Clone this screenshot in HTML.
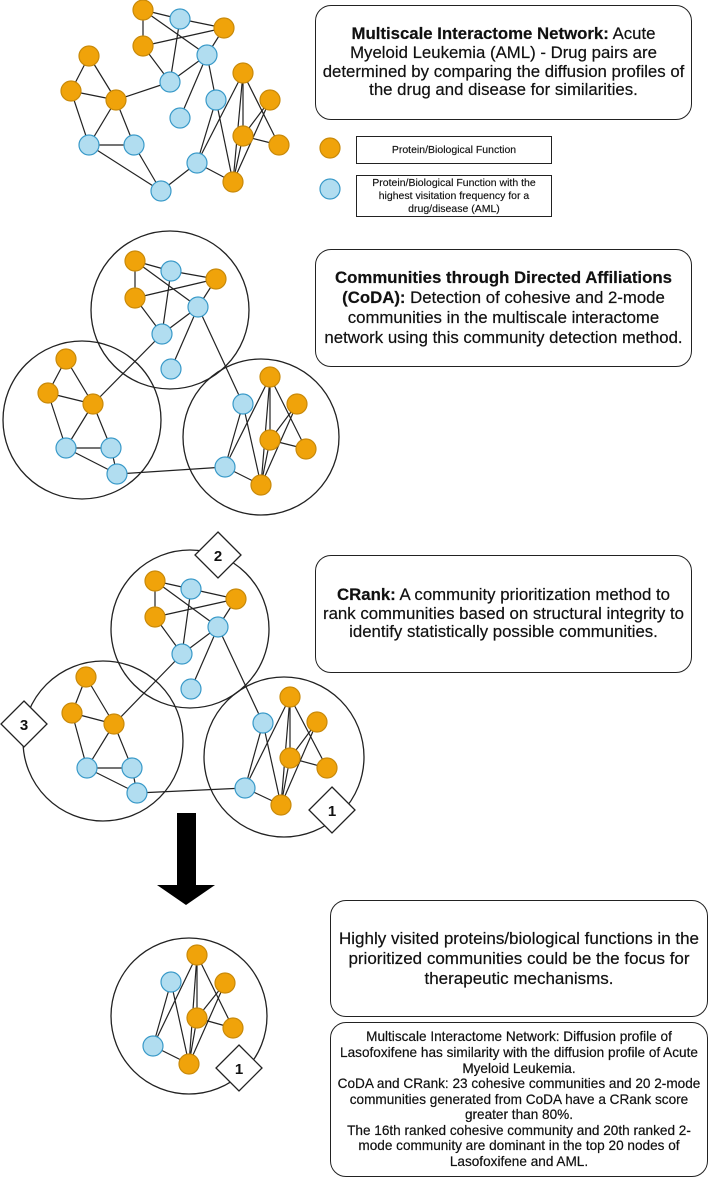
<!DOCTYPE html>
<html><head><meta charset="utf-8"><style>
html,body{margin:0;padding:0;background:#fff;}
body{width:709px;height:1180px;position:relative;overflow:hidden;font-family:"Liberation Sans",Arial,sans-serif;}
svg{position:absolute;left:0;top:0;}
.box{position:absolute;box-sizing:border-box;border:1.4px solid #222;border-radius:16px;display:flex;align-items:center;justify-content:center;text-align:center;color:#111;-webkit-text-stroke:0.2px #111;}
.lg{position:absolute;box-sizing:border-box;border:1.4px solid #222;display:flex;align-items:center;justify-content:center;text-align:center;font-size:10.5px;line-height:13px;color:#111;-webkit-text-stroke:0.15px #111;}
</style></head><body>
<svg width="709" height="1180" viewBox="0 0 709 1180">
<g stroke="#222" stroke-width="1.3" fill="none">
<circle cx="170" cy="310" r="79"/><circle cx="82" cy="420" r="79"/><circle cx="261" cy="437" r="78"/>
<circle cx="190" cy="629" r="79"/><circle cx="103" cy="741" r="80"/><circle cx="284" cy="757" r="80"/>
<circle cx="189" cy="1016" r="78"/>
</g>
<g stroke="#222" stroke-width="1.2">
<line x1="143" y1="10" x2="180" y2="19"/><line x1="143" y1="10" x2="143" y2="46"/><line x1="143" y1="10" x2="207" y2="55"/>
<line x1="180" y1="19" x2="224" y2="28"/><line x1="143" y1="46" x2="224" y2="28"/><line x1="180" y1="19" x2="170" y2="82"/>
<line x1="207" y1="55" x2="224" y2="28"/><line x1="170" y1="82" x2="207" y2="55"/><line x1="207" y1="55" x2="180" y2="118"/>
<line x1="207" y1="55" x2="216" y2="100"/><line x1="143" y1="46" x2="170" y2="82"/><line x1="170" y1="82" x2="116" y2="100"/>
<line x1="89" y1="56" x2="116" y2="100"/><line x1="89" y1="56" x2="71" y2="91"/><line x1="71" y1="91" x2="116" y2="100"/>
<line x1="71" y1="91" x2="89" y2="145"/><line x1="116" y1="100" x2="89" y2="145"/><line x1="116" y1="100" x2="134" y2="145"/>
<line x1="89" y1="145" x2="134" y2="145"/><line x1="89" y1="145" x2="161" y2="191"/><line x1="134" y1="145" x2="161" y2="191"/>
<line x1="161" y1="191" x2="197" y2="163"/><line x1="197" y1="163" x2="233" y2="182"/><line x1="216" y1="100" x2="197" y2="163"/>
<line x1="216" y1="100" x2="233" y2="182"/><line x1="197" y1="163" x2="243" y2="73"/><line x1="243" y1="73" x2="243" y2="136"/>
<line x1="243" y1="73" x2="233" y2="182"/><line x1="243" y1="73" x2="279" y2="145"/><line x1="270" y1="100" x2="243" y2="136"/>
<line x1="270" y1="100" x2="233" y2="182"/><line x1="243" y1="136" x2="279" y2="145"/><line x1="243" y1="136" x2="233" y2="182"/>
<line x1="135" y1="261" x2="171" y2="271"/><line x1="135" y1="261" x2="135" y2="298"/><line x1="135" y1="261" x2="198" y2="307"/>
<line x1="171" y1="271" x2="216" y2="279"/><line x1="135" y1="298" x2="216" y2="279"/><line x1="171" y1="271" x2="162" y2="334"/>
<line x1="198" y1="307" x2="216" y2="279"/><line x1="162" y1="334" x2="198" y2="307"/><line x1="198" y1="307" x2="171" y2="369"/>
<line x1="198" y1="307" x2="243" y2="404"/><line x1="135" y1="298" x2="162" y2="334"/><line x1="162" y1="334" x2="93" y2="404"/>
<line x1="66" y1="359" x2="93" y2="404"/><line x1="66" y1="359" x2="48" y2="393"/><line x1="48" y1="393" x2="93" y2="404"/>
<line x1="48" y1="393" x2="66" y2="448"/><line x1="93" y1="404" x2="66" y2="448"/><line x1="93" y1="404" x2="111" y2="448"/>
<line x1="66" y1="448" x2="111" y2="448"/><line x1="66" y1="448" x2="117" y2="474"/><line x1="111" y1="448" x2="117" y2="474"/>
<line x1="117" y1="474" x2="225" y2="467"/><line x1="225" y1="467" x2="261" y2="485"/><line x1="243" y1="404" x2="225" y2="467"/>
<line x1="243" y1="404" x2="261" y2="485"/><line x1="225" y1="467" x2="270" y2="377"/><line x1="270" y1="377" x2="270" y2="440"/>
<line x1="270" y1="377" x2="261" y2="485"/><line x1="270" y1="377" x2="306" y2="449"/><line x1="297" y1="404" x2="270" y2="440"/>
<line x1="297" y1="404" x2="261" y2="485"/><line x1="270" y1="440" x2="306" y2="449"/><line x1="270" y1="440" x2="261" y2="485"/>
<line x1="155" y1="581" x2="191" y2="589"/><line x1="155" y1="581" x2="155" y2="617"/><line x1="155" y1="581" x2="218" y2="627"/>
<line x1="191" y1="589" x2="236" y2="599"/><line x1="155" y1="617" x2="236" y2="599"/><line x1="191" y1="589" x2="182" y2="654"/>
<line x1="218" y1="627" x2="236" y2="599"/><line x1="182" y1="654" x2="218" y2="627"/><line x1="218" y1="627" x2="191" y2="689"/>
<line x1="218" y1="627" x2="263" y2="723"/><line x1="155" y1="617" x2="182" y2="654"/><line x1="182" y1="654" x2="114" y2="724"/>
<line x1="86" y1="677" x2="114" y2="724"/><line x1="86" y1="677" x2="72" y2="713"/><line x1="72" y1="713" x2="114" y2="724"/>
<line x1="72" y1="713" x2="87" y2="768"/><line x1="114" y1="724" x2="87" y2="768"/><line x1="114" y1="724" x2="132" y2="768"/>
<line x1="87" y1="768" x2="132" y2="768"/><line x1="87" y1="768" x2="137" y2="793"/><line x1="132" y1="768" x2="137" y2="793"/>
<line x1="137" y1="793" x2="245" y2="788"/><line x1="245" y1="788" x2="281" y2="805"/><line x1="263" y1="723" x2="245" y2="788"/>
<line x1="263" y1="723" x2="281" y2="805"/><line x1="245" y1="788" x2="290" y2="697"/><line x1="290" y1="697" x2="290" y2="758"/>
<line x1="290" y1="697" x2="281" y2="805"/><line x1="290" y1="697" x2="327" y2="768"/><line x1="317" y1="722" x2="290" y2="758"/>
<line x1="317" y1="722" x2="281" y2="805"/><line x1="290" y1="758" x2="327" y2="768"/><line x1="290" y1="758" x2="281" y2="805"/>
<line x1="171" y1="982" x2="153" y2="1046"/><line x1="171" y1="982" x2="189" y2="1064"/><line x1="153" y1="1046" x2="197" y2="955"/>
<line x1="153" y1="1046" x2="189" y2="1064"/><line x1="197" y1="955" x2="197" y2="1018"/><line x1="197" y1="955" x2="189" y2="1064"/>
<line x1="197" y1="955" x2="233" y2="1028"/><line x1="225" y1="983" x2="197" y2="1018"/><line x1="225" y1="983" x2="189" y2="1064"/>
<line x1="197" y1="1018" x2="233" y2="1028"/><line x1="197" y1="1018" x2="189" y2="1064"/>
</g>
<g fill="#f0a30a" stroke="#c98a0a" stroke-width="1.2">
<circle cx="143" cy="10" r="10"/><circle cx="224" cy="28" r="10"/><circle cx="143" cy="46" r="10"/><circle cx="89" cy="56" r="10"/><circle cx="71" cy="91" r="10"/><circle cx="116" cy="100" r="10"/><circle cx="243" cy="73" r="10"/><circle cx="270" cy="100" r="10"/><circle cx="243" cy="136" r="10"/><circle cx="279" cy="145" r="10"/><circle cx="233" cy="182" r="10"/>
<circle cx="135" cy="261" r="10"/><circle cx="216" cy="279" r="10"/><circle cx="135" cy="298" r="10"/><circle cx="66" cy="359" r="10"/><circle cx="48" cy="393" r="10"/><circle cx="93" cy="404" r="10"/><circle cx="270" cy="377" r="10"/><circle cx="297" cy="404" r="10"/><circle cx="270" cy="440" r="10"/><circle cx="306" cy="449" r="10"/><circle cx="261" cy="485" r="10"/>
<circle cx="155" cy="581" r="10"/><circle cx="236" cy="599" r="10"/><circle cx="155" cy="617" r="10"/><circle cx="86" cy="677" r="10"/><circle cx="72" cy="713" r="10"/><circle cx="114" cy="724" r="10"/><circle cx="290" cy="697" r="10"/><circle cx="317" cy="722" r="10"/><circle cx="290" cy="758" r="10"/><circle cx="327" cy="768" r="10"/><circle cx="281" cy="805" r="10"/>
<circle cx="197" cy="955" r="10"/><circle cx="225" cy="983" r="10"/><circle cx="197" cy="1018" r="10"/><circle cx="233" cy="1028" r="10"/><circle cx="189" cy="1064" r="10"/>
<circle cx="330" cy="148" r="10"/>
</g>
<g fill="#b1ddf0" stroke="#3a9ac9" stroke-width="1.2">
<circle cx="180" cy="19" r="10"/><circle cx="207" cy="55" r="10"/><circle cx="170" cy="82" r="10"/><circle cx="180" cy="118" r="10"/><circle cx="216" cy="100" r="10"/><circle cx="89" cy="145" r="10"/><circle cx="134" cy="145" r="10"/><circle cx="197" cy="163" r="10"/><circle cx="161" cy="191" r="10"/>
<circle cx="171" cy="271" r="10"/><circle cx="198" cy="307" r="10"/><circle cx="162" cy="334" r="10"/><circle cx="171" cy="369" r="10"/><circle cx="243" cy="404" r="10"/><circle cx="66" cy="448" r="10"/><circle cx="111" cy="448" r="10"/><circle cx="225" cy="467" r="10"/><circle cx="117" cy="474" r="10"/>
<circle cx="191" cy="589" r="10"/><circle cx="218" cy="627" r="10"/><circle cx="182" cy="654" r="10"/><circle cx="191" cy="689" r="10"/><circle cx="263" cy="723" r="10"/><circle cx="87" cy="768" r="10"/><circle cx="132" cy="768" r="10"/><circle cx="245" cy="788" r="10"/><circle cx="137" cy="793" r="10"/>
<circle cx="171" cy="982" r="10"/><circle cx="153" cy="1046" r="10"/>
<circle cx="330" cy="189" r="10"/>
</g>
<g fill="#fff" stroke="#222" stroke-width="1.3">
<polygon points="218,532 241,555 218,578 195,555"/>
<polygon points="24,701 47,724 24,747 1,724"/>
<polygon points="332,787 355,810 332,833 309,810"/>
<polygon points="239,1045 262,1068 239,1091 216,1068"/>
</g>
<g font-family="Liberation Sans, Arial, sans-serif" font-weight="bold" font-size="15" text-anchor="middle" fill="#111">
<text x="218" y="561">2</text><text x="24" y="730">3</text><text x="332" y="816">1</text><text x="239" y="1074">1</text>
</g>
<polygon points="177,813 196,813 196,885 215,885 186,905 157,885 177,885" fill="#000"/>
</svg>

<div class="box" style="left:315px;top:5px;width:377px;height:115px;font-size:16.8px;line-height:18.8px;"><div><b>Multiscale Interactome Network:</b> Acute<br>Myeloid Leukemia (AML) - Drug pairs are<br>determined by comparing the diffusion profiles of<br>the drug and disease for similarities.</div></div>
<div class="lg" style="left:356px;top:136px;width:196px;height:28px;">Protein/Biological Function</div>
<div class="lg" style="left:356px;top:175px;width:196px;height:42px;">Protein/Biological Function with the<br>highest visitation frequency for a<br>drug/disease (AML)</div>
<div class="box" style="left:315px;top:249px;width:377px;height:118px;font-size:16.8px;line-height:19.8px;"><div><b>Communities through Directed Affiliations<br>(CoDA):</b> Detection of cohesive and 2-mode<br>communities in the multiscale interactome<br>network using this community detection method.</div></div>
<div class="box" style="left:315px;top:555px;width:377px;height:118px;font-size:16.8px;line-height:18.5px;"><div><b>CRank:</b> A community prioritization method to<br>rank communities based on structural integrity to<br>identify statistically possible communities.</div></div>
<div class="box" style="left:330px;top:900px;width:378px;height:117px;font-size:17px;line-height:20px;"><div>Highly visited proteins/biological functions in the<br>prioritized communities could be the focus for<br>therapeutic mechanisms.</div></div>
<div class="box" style="left:330px;top:1022px;width:378px;height:155px;font-size:13.6px;line-height:15.6px;"><div>Multiscale Interactome Network: Diffusion profile of<br>Lasofoxifene has similarity with the diffusion profile of Acute<br>Myeloid Leukemia.<br>CoDA and CRank: 23 cohesive communities and 20 2-mode<br>communities generated from CoDA have a CRank score<br>greater than 80%.<br>The 16th ranked cohesive community and 20th ranked 2-<br>mode community are dominant in the top 20 nodes of<br>Lasofoxifene and AML.</div></div>
</body></html>
